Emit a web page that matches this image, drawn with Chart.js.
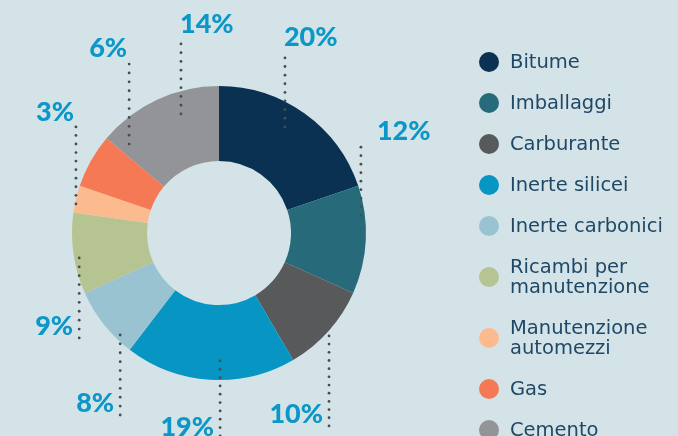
<!DOCTYPE html>
<html>
<head>
<meta charset="utf-8">
<script src="https://cdn.jsdelivr.net/npm/chart.js@4.4.0/dist/chart.umd.min.js"></script>
<style>
  html, body { margin: 0; padding: 0; background: #d4e3e8; }
  #wrap { position: relative; width: 678px; height: 436px; overflow: hidden; }
  #chart { position: absolute; left: 0; top: 0; }
  #legend { position: absolute; left: 479px; top: 52px; font-family: "DejaVu Sans", sans-serif; font-size: 19.5px; color: #1f4866; }
  .item { display: flex; align-items: center; margin-bottom: 21px; line-height: 20px; }
  .dot { width: 20px; height: 20px; border-radius: 50%; margin-right: 11px; flex: none; }
</style>
</head>
<body>
<div id="wrap">
  <canvas id="chart" width="678" height="436"></canvas>
  <div id="legend"></div>
</div>
<script>
// data
const categories = ['Bitume', 'Imballaggi', 'Carburante', 'Inerte silicei', 'Inerte carbonici',
  'Ricambi per manutenzione', 'Manutenzione automezzi', 'Gas', 'Cemento'];
const legendText = ['Bitume', 'Imballaggi', 'Carburante', 'Inerte silicei', 'Inerte carbonici',
  'Ricambi per\nmanutenzione', 'Manutenzione\nautomezzi', 'Gas', 'Cemento'];
const shares = [20, 12, 10, 19, 8, 9, 3, 6, 14];
const pctLabels = ['20%', '12%', '10%', '19%', '8%', '9%', '3%', '6%', '14%'];
const sliceColors = ['#0b3152', '#276b7b', '#58595b', '#0795c4', '#9ac3d2',
  '#b5c490', '#fcbb8e', '#f47954', '#939497'];

// where each dotted leader sits (fraction along the arc, fraction of radius) and where its label goes
const leaders = [
  { t: 0.447, rf: 0.85,  dir: -1, len: 69, align: 'left',  dx: -1, dy: -12 },
  { t: 0.27,  rf: 0.973, dir: -1, len: 68, align: 'left',  dx: 16, dy: -7 },
  { t: 0.534, rf: 1.025, dir: 1,  len: 90, align: 'right', dx: -6, dy: -3 },
  { t: 0.44,  rf: 0.87,  dir: 1,  len: 75, align: 'right', dx: -6, dy: 0 },
  { t: 0.234, rf: 0.966, dir: 1,  len: 80, align: 'right', dx: -6, dy: -3 },
  { t: 0.435, rf: 0.966, dir: 1,  len: 80, align: 'right', dx: -6, dy: -3 },
  { t: 0.326, rf: 0.993, dir: -1, len: 77, align: 'right', dx: -2, dy: -6 },
  { t: 1.215, rf: 0.86,  dir: -1, len: 80, align: 'right', dx: -2, dy: -7 },
  { t: 0.645, rf: 0.85,  dir: -1, len: 70, align: 'left',  dx: -1, dy: -11 }
];

const leaderPlugin = {
  id: 'leaders',
  afterDatasetsDraw(chart) {
    const ctx = chart.ctx;
    const arcs = chart.getDatasetMeta(0).data;
    ctx.save();
    arcs.forEach((arc, i) => {
      const L = leaders[i];
      const p = arc.getProps(['x', 'y', 'startAngle', 'endAngle', 'outerRadius'], true);
      const a = p.startAngle + L.t * (p.endAngle - p.startAngle);
      const r = L.rf * p.outerRadius;
      const ax = p.x + r * Math.cos(a), ay = p.y + r * Math.sin(a);
      const ey = ay + L.dir * L.len;
      ctx.fillStyle = '#4a4c50';
      const n = Math.round(L.len / 8.5);
      for (let k = 0; k <= n; k++) {
        ctx.beginPath();
        ctx.arc(ax, ay + L.dir * k * L.len / n, 1.4, 0, Math.PI * 2);
        ctx.fill();
      }
      ctx.font = '900 27px Lato';
      ctx.fillStyle = '#0b97c8';
      ctx.textAlign = L.align;
      ctx.textBaseline = 'alphabetic';
      ctx.fillText(pctLabels[i], ax + L.dx, ey + L.dy);
    });
    ctx.restore();
  }
};

new Chart(document.getElementById('chart'), {
  type: 'doughnut',
  data: {
    labels: categories,
    datasets: [{
      data: shares,
      backgroundColor: sliceColors,
      borderWidth: 0
    }]
  },
  options: {
    responsive: false,
    animation: false,
    devicePixelRatio: 1,
    cutout: '49%',
    layout: { padding: { left: 72, right: 312, top: 86, bottom: 56 } },
    plugins: { legend: { display: false }, tooltip: { enabled: false } }
  },
  plugins: [leaderPlugin]
});

// legend on the right
const legend = document.getElementById('legend');
legendText.forEach((txt, i) => {
  const item = document.createElement('div');
  item.className = 'item';
  const dot = document.createElement('span');
  dot.className = 'dot';
  dot.style.background = sliceColors[i];
  const label = document.createElement('span');
  label.innerHTML = txt.split('\n').join('<br>');
  item.appendChild(dot);
  item.appendChild(label);
  legend.appendChild(item);
});
</script>
</body>
</html>
